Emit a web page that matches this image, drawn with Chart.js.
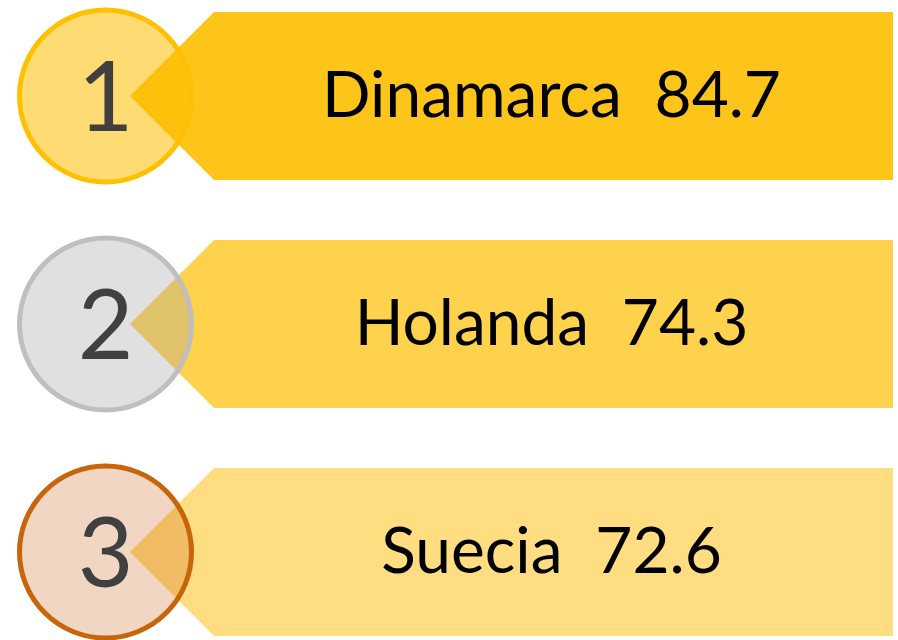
<!DOCTYPE html>
<html>
<head>
<meta charset="utf-8">
<script src="https://cdn.jsdelivr.net/npm/chart.js@4/dist/chart.umd.min.js"></script>
<style>
  html, body { margin: 0; padding: 0; background: #ffffff; }
  #wrap { width: 898px; height: 640px; }
</style>
</head>
<body>
<div id="wrap"><canvas id="c" width="898" height="640"></canvas></div>
<script>
// ---- data ----
const countries = ["Dinamarca", "Holanda", "Suecia"];
const scores = [84.7, 74.3, 72.6];
const ranks = [1, 2, 3];

// ---- styles ----
const bannerColors = ["rgb(253,196,25)", "rgb(255,210,77)", "rgb(255,221,128)"];
const circleFills = ["rgba(255,192,0,0.55)", "rgba(165,165,165,0.34)", "rgba(197,90,17,0.25)"];
const circleBorders = ["rgb(255,192,0)", "rgb(191,191,191)", "rgb(200,100,10)"];
const FONT = "Lato, 'Open Sans', sans-serif";

const medalPlugin = {
  id: 'medal',
  beforeDatasetDraw(chart, args) {
    if (args.index !== 0) return;
    const ctx = chart.ctx;
    const meta = args.meta;
    ctx.save();
    meta.data.forEach((bar, i) => {
      const p = bar.getProps(['x', 'y', 'base', 'height'], true);
      const h = p.height, half = h / 2;
      const left = Math.min(p.base, p.x), right = Math.max(p.base, p.x);
      ctx.beginPath();
      ctx.moveTo(left, p.y);
      ctx.lineTo(left + half, p.y - half);
      ctx.lineTo(right, p.y - half);
      ctx.lineTo(right, p.y + half);
      ctx.lineTo(left + half, p.y + half);
      ctx.closePath();
      ctx.fillStyle = bar.options.backgroundColor;
      ctx.fill();
    });
    ctx.restore();
    return false;
  },
  afterDatasetsDraw(chart) {
    const ctx = chart.ctx;
    const meta = chart.getDatasetMeta(0);
    ctx.save();
    meta.data.forEach((bar, i) => {
      const p = bar.getProps(['x', 'y', 'base', 'height'], true);
      const half = p.height / 2;
      const left = Math.min(p.base, p.x), right = Math.max(p.base, p.x);
      // medal circle
      const cx = left - 24.5, cy = p.y;
      ctx.beginPath();
      ctx.arc(cx, cy, 86, 0, Math.PI * 2);
      ctx.fillStyle = circleFills[i];
      ctx.fill();
      ctx.lineWidth = 5;
      ctx.strokeStyle = circleBorders[i];
      ctx.stroke();
      // rank number
      ctx.fillStyle = '#404040';
      ctx.font = '96px ' + FONT;
      ctx.textAlign = 'center';
      ctx.textBaseline = 'alphabetic';
      ctx.fillText(String(ranks[i]), cx, cy + 35);
      // label
      ctx.fillStyle = '#000000';
      ctx.font = '64px ' + FONT;
      const tx = (left + half + right) / 2 - 2;
      ctx.fillText(countries[i] + '  ' + scores[i].toFixed(1), tx, p.y + 21);
    });
    ctx.restore();
  }
};

new Chart(document.getElementById('c'), {
  type: 'bar',
  data: {
    datasets: [{
      data: ranks.map(r => ({ x: [0, 1], y: r })),
      backgroundColor: bannerColors,
      borderWidth: 0,
      barThickness: 168
    }]
  },
  options: {
    indexAxis: 'y',
    responsive: false,
    animation: false,
    layout: { padding: 0 },
    plugins: { legend: { display: false }, tooltip: { enabled: false } },
    events: [],
    scales: {
      x: { type: 'linear', display: false, offset: false, min: -0.17038, max: 1.00655 },
      y: { type: 'linear', display: false, offset: false, reverse: true, min: 0.5789, max: 3.386 }
    }
  },
  plugins: [medalPlugin]
});
</script>
</body>
</html>
